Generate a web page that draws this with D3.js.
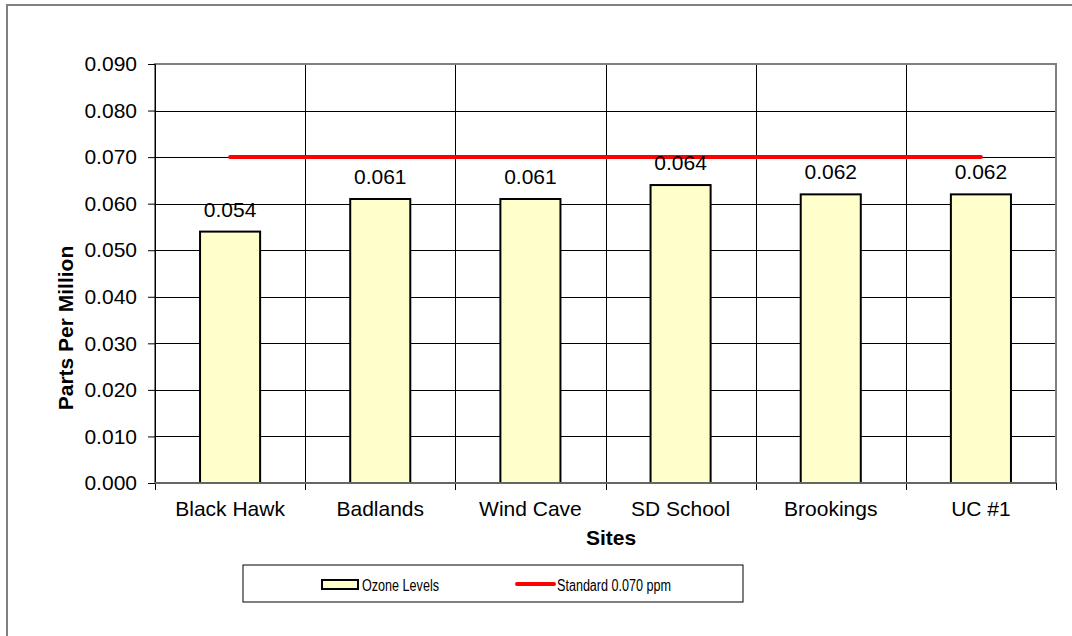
<!DOCTYPE html>
<html><head><meta charset="utf-8">
<script src="https://cdn.jsdelivr.net/npm/d3@7"></script>
<style>body{margin:0;background:#fff}svg{display:block}text{font-family:"Liberation Sans",Arial,sans-serif}</style>
</head><body>
<svg id="c" width="1072" height="636"></svg>
<script>
const sites = ["Black Hawk","Badlands","Wind Cave","SD School","Brookings","UC #1"];
const ozone = [0.054,0.061,0.061,0.064,0.062,0.062];
const standard = [0.070,0.070,0.070,0.070,0.070,0.070];
const yTicks = [0,0.01,0.02,0.03,0.04,0.05,0.06,0.07,0.08,0.09];
const seriesNames = ["Ozone Levels","Standard 0.070 ppm"];
const axisTitles = {x:"Sites", y:"Parts Per Million"};

const svg = d3.select("#c");
const L=155, R=1056, T=64, B=483;
const x = d3.scaleBand().domain(sites).range([L,R]).paddingInner(0).paddingOuter(0);
const y = d3.scaleLinear().domain([0,0.09]).range([B,T]);
const bw = x.bandwidth();

// outer border
svg.append("rect").attr("x",7).attr("y",5).attr("width",1200).attr("height",800)
  .attr("fill","none").attr("stroke","#808080").attr("stroke-width",2);

// horizontal gridlines
svg.append("g").selectAll("line").data(yTicks.filter(v=>v>0 && v<0.09)).join("line")
  .attr("x1",L).attr("x2",R).attr("y1",d=>Math.round(y(d))+0.5).attr("y2",d=>Math.round(y(d))+0.5)
  .attr("stroke","#000").attr("stroke-width",1);
// vertical gridlines
svg.append("g").selectAll("line").data(sites.slice(1)).join("line")
  .attr("x1",d=>Math.round(x(d))+0.5).attr("x2",d=>Math.round(x(d))+0.5).attr("y1",T).attr("y2",B)
  .attr("stroke","#000").attr("stroke-width",1);

// plot border
svg.append("rect").attr("x",L).attr("y",T).attr("width",R-L).attr("height",B-T)
  .attr("fill","none").attr("stroke","#808080").attr("stroke-width",2);

// bars
svg.append("g").selectAll("rect").data(sites).join("rect")
  .attr("x",(d)=>x(d)+bw*0.3).attr("width",bw*0.4)
  .attr("y",(d,i)=>y(ozone[i])).attr("height",(d,i)=>y(0)-y(ozone[i]))
  .attr("fill","#FFFFCC").attr("stroke","#000").attr("stroke-width",2);

// y axis
const ya = svg.append("g").attr("transform",`translate(${L},0)`)
  .call(d3.axisLeft(y).tickValues(yTicks).tickFormat(d3.format(".3f")).tickSize(7).tickPadding(11));
ya.select(".domain").attr("stroke","#000");
ya.selectAll(".tick line").attr("stroke","#000");
ya.selectAll("text").attr("font-size",21).attr("fill","#000").style("font-family",'"Liberation Sans",Arial,sans-serif');

// x axis ticks at band boundaries
const xb = sites.map(s=>x(s)).concat([R]);
svg.append("g").selectAll("line").data(xb).join("line")
  .attr("x1",d=>Math.round(d)+0.5).attr("x2",d=>Math.round(d)+0.5).attr("y1",B).attr("y2",B+7)
  .attr("stroke","#000");
svg.append("line").attr("x1",L).attr("x2",R).attr("y1",B).attr("y2",B).attr("stroke","#666").attr("stroke-width",2);
svg.append("g").selectAll("text").data(sites).join("text")
  .attr("x",d=>x(d)+bw/2).attr("y",516).attr("text-anchor","middle")
  .attr("font-size",21).attr("fill","#000").text(d=>d);

// standard line
const line = d3.line().x(d=>x(d[0])+bw/2).y(d=>y(d[1]));
svg.append("path").datum(sites.map((s,i)=>[s,standard[i]])).attr("d",line)
  .attr("fill","none").attr("stroke","#FF0000").attr("stroke-width",4).attr("stroke-linecap","round");

// value labels
svg.append("g").selectAll("text").data(sites).join("text")
  .attr("x",d=>x(d)+bw/2).attr("y",(d,i)=>y(ozone[i])-15).attr("text-anchor","middle")
  .attr("font-size",21).attr("fill","#000").text((d,i)=>d3.format(".3f")(ozone[i]));

// axis titles
svg.append("text").attr("x",611).attr("y",545).attr("text-anchor","middle")
  .attr("font-size",21).attr("font-weight","bold").text(axisTitles.x);
svg.append("text").attr("transform","translate(73,328) rotate(-90)").attr("text-anchor","middle")
  .attr("font-size",21).attr("font-weight","bold").text(axisTitles.y);

// legend
const lg = svg.append("g");
lg.append("rect").attr("x",243).attr("y",565).attr("width",500).attr("height",37)
  .attr("fill","#fff").attr("stroke","#000").attr("stroke-width",1);
lg.append("rect").attr("x",322).attr("y",580).attr("width",36).attr("height",9)
  .attr("fill","#FFFFCC").attr("stroke","#000").attr("stroke-width",2);
lg.append("text").attr("x",362).attr("y",591).attr("font-size",16)
  .attr("textLength",77).attr("lengthAdjust","spacingAndGlyphs").text(seriesNames[0]);
lg.append("line").attr("x1",517).attr("x2",554).attr("y1",584).attr("y2",584)
  .attr("stroke","#FF0000").attr("stroke-width",4).attr("stroke-linecap","round");
lg.append("text").attr("x",557).attr("y",591).attr("font-size",16)
  .attr("textLength",114).attr("lengthAdjust","spacingAndGlyphs").text(seriesNames[1]);
</script>
</body></html>
